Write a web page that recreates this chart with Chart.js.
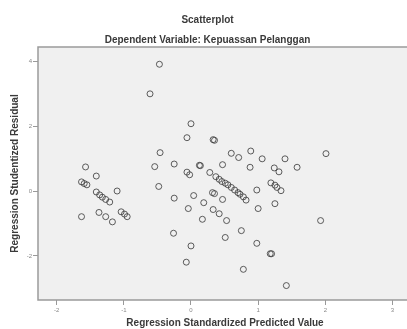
<!DOCTYPE html>
<html>
<head>
<meta charset="utf-8">
<script src="https://cdn.jsdelivr.net/npm/chart.js@4.4.1/dist/chart.umd.min.js"></script>
<style>
  body { margin: 0; background: #fff; overflow: hidden; }
  #wrap { width: 407px; height: 329px; overflow: hidden; }
</style>
</head>
<body>
<div id="wrap"><canvas id="plot" width="416" height="329"></canvas></div>
<script>
// data
const predicted = [
  -1.57, -1.41, -1.63, -1.59, -1.55, -1.41, -1.36, -1.32, -1.27, -1.21, -1.10,
  -1.63, -1.37, -1.27, -1.17, -1.04, -0.99, -0.95,
  -0.47, -0.61, 0.00, -0.06, 0.33, 0.35, -0.46, -0.54, -0.25, 0.125, 0.14,
  -0.06, -0.02, 0.28, 0.47, 0.60, 0.71, 0.89, 1.06, 0.88, -0.48, 0.98,
  0.37, 0.42, 0.46, 0.51, 0.55, 0.60, 0.65, 0.70, 0.73, 0.78, 0.82,
  0.04, -0.25, 0.19, 0.32, 0.35, 0.47, 1.40, 1.24, 1.31, 1.58,
  1.19, 1.25, 1.28, 1.34, 1.25, -0.04, 0.33, 0.42, 0.53, 0.17, 1.00,
  0.75, -0.26, 0.51, 0.00, 0.98, 1.18, 1.20, -0.07, 0.78, 1.42, 2.01, 1.93
];
const residual = [
  0.74, 0.46, 0.28, 0.23, 0.19, -0.03, -0.12, -0.19, -0.26, -0.34, 0.00,
  -0.79, -0.66, -0.79, -0.95, -0.64, -0.71, -0.79,
  3.90, 2.99, 2.07, 1.64, 1.58, 1.56, 1.18, 0.75, 0.83, 0.79, 0.78,
  0.58, 0.50, 0.57, 0.81, 1.16, 1.03, 1.23, 0.99, 0.73, 0.14, 0.03,
  0.44, 0.36, 0.29, 0.24, 0.19, 0.11, 0.03, -0.05, -0.10, -0.18, -0.28,
  -0.14, -0.22, -0.36, -0.05, -0.08, -0.26, 0.99, 0.71, 0.59, 0.73,
  0.25, 0.18, 0.11, 0.01, -0.39, -0.54, -0.57, -0.70, -0.91, -0.87, -0.54,
  -1.22, -1.30, -1.43, -1.69, -1.61, -1.93, -1.93, -2.19, -2.41, -2.91, 1.15, -0.91
];
const xTicks = [-2, -1, 0, 1, 2, 3];
const yTicks = [-2, 0, 2, 4];

const points = predicted.map((x, i) => ({ x: x, y: residual[i] }));

const frame = {
  id: 'frame',
  beforeDraw(chart) {
    const c = chart.ctx, a = chart.chartArea;
    c.save();
    c.fillStyle = '#ffffff';
    c.fillRect(0, 0, chart.width, chart.height);
    c.fillStyle = '#f0f0f0';
    c.fillRect(a.left, a.top, a.right - a.left, a.bottom - a.top);
    c.restore();
  },
  afterDraw(chart) {
    const c = chart.ctx, a = chart.chartArea;
    c.save();
    c.strokeStyle = '#9a9a9a';
    c.lineWidth = 1.5;
    c.strokeRect(a.left, a.top, a.right - a.left, a.bottom - a.top);
    c.restore();
  }
};

const titleFont = { family: 'Liberation Sans, Arial', size: 10, weight: 'bold' };

new Chart(document.getElementById('plot'), {
  type: 'scatter',
  data: {
    datasets: [{
      data: points,
      pointStyle: 'circle',
      pointRadius: 3,
      pointHoverRadius: 3,
      borderWidth: 1,
      borderColor: 'rgba(55,55,55,0.8)',
      backgroundColor: 'rgba(0,0,0,0)'
    }]
  },
  options: {
    responsive: false,
    devicePixelRatio: 1,
    animation: false,
    layout: { padding: { left: 0, right: 1, top: 0, bottom: 0 } },
    plugins: {
      legend: { display: false },
      tooltip: { enabled: false },
      title: {
        display: true,
        text: 'Scatterplot',
        color: '#3a3a3a',
        font: titleFont,
        padding: { top: 14, bottom: 8 }
      },
      subtitle: {
        display: true,
        text: 'Dependent Variable: Kepuassan Pelanggan',
        color: '#3a3a3a',
        font: titleFont,
        padding: { top: 0, bottom: 1 }
      }
    },
    scales: {
      x: {
        type: 'linear',
        min: -2.278,
        max: 3.291,
        afterBuildTicks: (s) => { s.ticks = xTicks.map(v => ({ value: v })); },
        afterFit: (s) => { s.height = 29; },
        grid: { drawOnChartArea: false, tickLength: 5, color: '#999' },
        border: { display: false },
        ticks: { color: '#888', font: { family: 'Liberation Sans, Arial', size: 6 }, padding: 2, maxRotation: 0 },
        title: {
          display: true,
          text: 'Regression Standardized Predicted Value',
          color: '#3a3a3a',
          font: titleFont,
          padding: { top: 0, bottom: 0 }
        }
      },
      y: {
        type: 'linear',
        min: -3.354,
        max: 4.431,
        afterBuildTicks: (s) => { s.ticks = yTicks.map(v => ({ value: v })); },
        afterFit: (s) => { s.width = 38; },
        grid: { drawOnChartArea: false, tickLength: 5, color: '#999' },
        border: { display: false },
        ticks: { color: '#888', font: { family: 'Liberation Sans, Arial', size: 6 }, padding: 1 },
        title: {
          display: true,
          text: 'Regression Studentized Residual',
          color: '#3a3a3a',
          font: titleFont,
          padding: { top: 9, bottom: 0 }
        }
      }
    }
  },
  plugins: [frame]
});
</script>
</body>
</html>
